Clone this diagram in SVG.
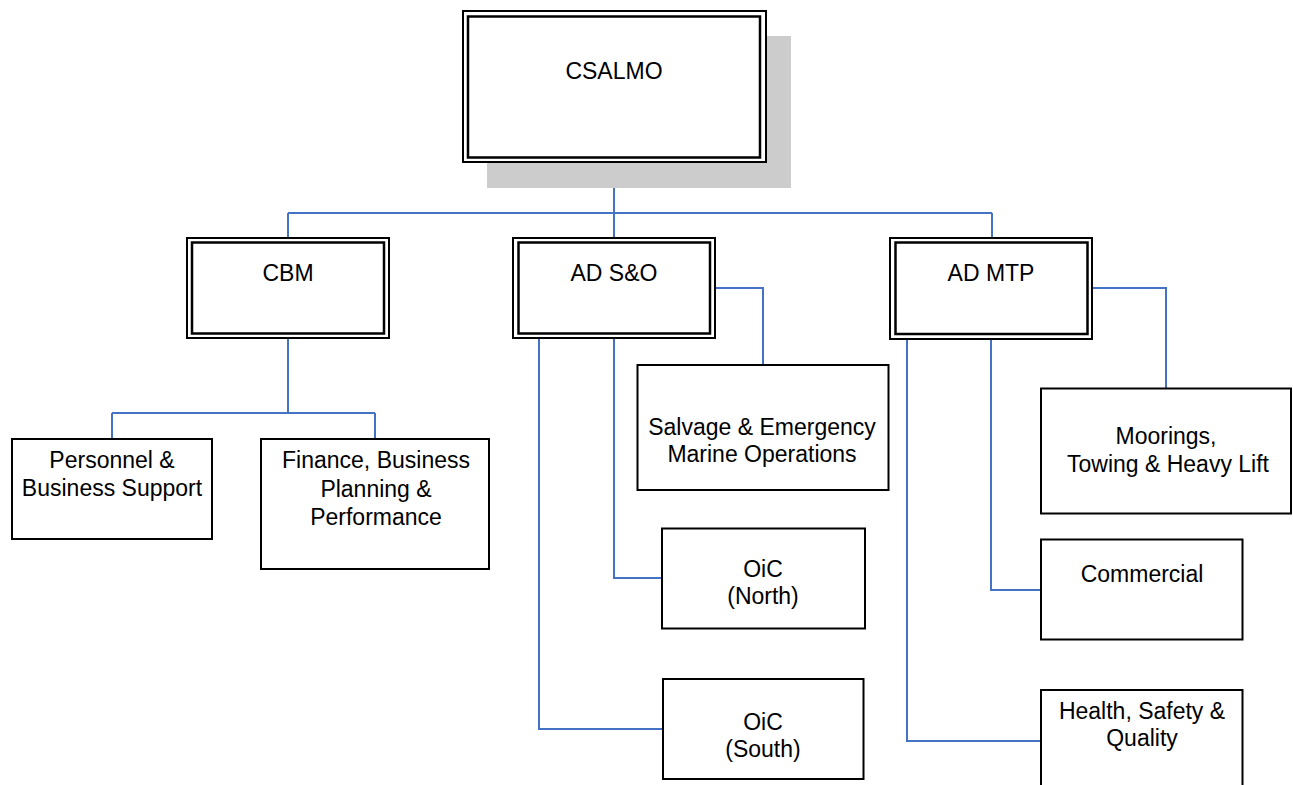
<svg xmlns="http://www.w3.org/2000/svg" width="1293" height="785" viewBox="0 0 1293 785">
  <style>
    .box { fill: #ffffff; stroke: #000000; stroke-width: 2; }
    .outer { fill: #ffffff; stroke: #000000; stroke-width: 2; }
    .inner { fill: none; stroke: #000000; stroke-width: 2.5; }
    .shadow { fill: #cccccc; }
    .lbl { font-family: "Liberation Sans", Arial, sans-serif; font-size: 23px; fill: #000000; text-anchor: middle; }
    .conn { fill: none; stroke: #4472c4; stroke-width: 2; }
  </style>
  <rect width="1293" height="785" fill="#ffffff"/>

  <!-- connectors -->
  <g id="connectors">
    <path class="conn" d="M614,162 V213 M288,213 H992 M288,213 V238 M614,213 V238 M992,213 V238"/>
    <path class="conn" d="M288,338 V413 M112,413 H375 M112,413 V439 M375,413 V439"/>
    <path class="conn" d="M715,288 H763 V365"/>
    <path class="conn" d="M614,338 V578 H662"/>
    <path class="conn" d="M539,338 V729 H663"/>
    <path class="conn" d="M1092,288 H1166 V388"/>
    <path class="conn" d="M991,339 V590 H1041"/>
    <path class="conn" d="M907,339 V741 H1041"/>
  </g>

  <!-- top node -->
  <g id="csalmo">
    <rect class="shadow" x="487" y="36" width="304" height="152"/>
    <rect class="outer" x="463" y="11" width="303" height="151"/>
    <rect class="inner" x="468" y="16.5" width="292" height="141"/>
    <text class="lbl" x="614" y="79">CSALMO</text>
  </g>

  <g id="cbm">
    <rect class="outer" x="187" y="238" width="202" height="100"/>
    <rect class="inner" x="192" y="242.5" width="192" height="91"/>
    <text class="lbl" x="288" y="281">CBM</text>
  </g>

  <g id="ad-so">
    <rect class="outer" x="513" y="238" width="202" height="100"/>
    <rect class="inner" x="518.5" y="242.5" width="191.5" height="91"/>
    <text class="lbl" x="614" y="281">AD S&amp;O</text>
  </g>

  <g id="ad-mtp">
    <rect class="outer" x="890" y="238" width="202" height="101"/>
    <rect class="inner" x="895.5" y="242.5" width="192" height="91.5"/>
    <text class="lbl" x="991" y="281">AD MTP</text>
  </g>

  <g id="personnel">
    <rect class="box" x="12" y="439" width="200" height="100"/>
    <text class="lbl" x="112" y="468">Personnel &amp;</text>
    <text class="lbl" x="112" y="496">Business Support</text>
  </g>

  <g id="finance">
    <rect class="box" x="261" y="439" width="228" height="130"/>
    <text class="lbl" x="376" y="468">Finance, Business</text>
    <text class="lbl" x="376" y="496.5">Planning &amp;</text>
    <text class="lbl" x="376" y="525">Performance</text>
  </g>

  <g id="salvage">
    <rect class="box" x="637.5" y="365" width="251" height="125"/>
    <text class="lbl" x="762" y="435">Salvage &amp; Emergency</text>
    <text class="lbl" x="762" y="462">Marine Operations</text>
  </g>

  <g id="oic-north">
    <rect class="box" x="662" y="528.5" width="203" height="100"/>
    <text class="lbl" x="763" y="577">OiC</text>
    <text class="lbl" x="763" y="604">(North)</text>
  </g>

  <g id="oic-south">
    <rect class="box" x="663" y="679" width="200.5" height="100"/>
    <text class="lbl" x="763" y="730">OiC</text>
    <text class="lbl" x="763" y="757">(South)</text>
  </g>

  <g id="moorings">
    <rect class="box" x="1041" y="388.5" width="250" height="125"/>
    <text class="lbl" x="1166" y="444">Moorings,</text>
    <text class="lbl" x="1168" y="472">Towing &amp; Heavy Lift</text>
  </g>

  <g id="commercial">
    <rect class="box" x="1041" y="539.5" width="201.5" height="100"/>
    <text class="lbl" x="1142" y="582">Commercial</text>
  </g>

  <g id="hsq">
    <rect class="box" x="1041" y="690" width="201.5" height="110"/>
    <text class="lbl" x="1142" y="718.5">Health, Safety &amp;</text>
    <text class="lbl" x="1142" y="746">Quality</text>
  </g>
</svg>
